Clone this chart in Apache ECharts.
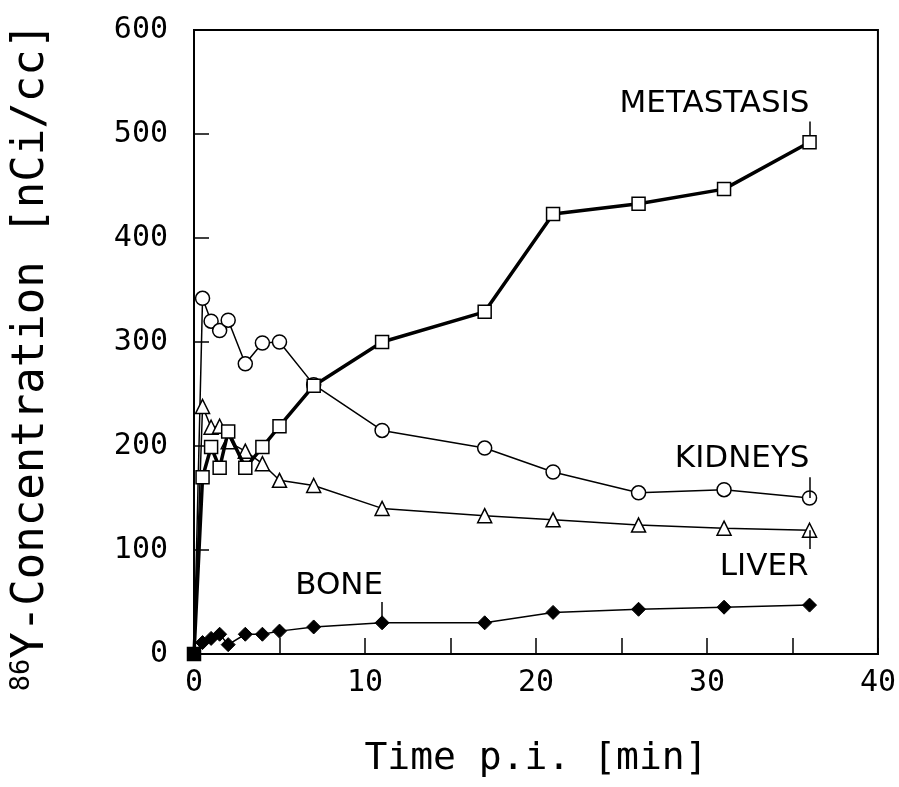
<!DOCTYPE html>
<html><head><meta charset="utf-8">
<style>html,body{margin:0;padding:0;background:#fff}#c{width:899px;height:787px}</style>
<script src="https://cdn.jsdelivr.net/npm/echarts@6/dist/echarts.min.js"></script>
</head><body><div id="c"></div>
<script>
// time points [min p.i.]
const times      = [0, 0.5, 1, 1.5, 2, 3, 4, 5, 7, 11, 17, 21, 26, 31, 36];
// 86Y concentration [nCi/cc]
const metastasis = [0, 170, 199, 179, 214, 179, 199, 219, 258, 300, 329, 423, 433, 447, 492];
const kidneys    = [0, 342, 320, 311, 321, 279, 299, 300, 259, 215, 198, 175, 155, 158, 150];
const liver      = [0, 238, 218, 219, 204, 195, 183, 167, 162, 140, 133, 129, 124, 121, 119];
const bone       = [0, 11, 15, 19, 9, 19, 19, 22, 26, 30, 30, 40, 43, 45, 47];
const xTickLabels = [0, 10, 20, 30, 40];
const yTickLabels = [0, 100, 200, 300, 400, 500, 600];
const seriesNames = ['METASTASIS', 'KIDNEYS', 'LIVER', 'BONE'];

const FONT = 'DejaVu Sans';
const MONO = 'DejaVu Sans Mono';

function pts(vals, originExtra, labelIdx, labelOpt) {
  return times.map((t, i) => {
    const item = { value: [t, vals[i]] };
    if (i === 0 && originExtra) Object.assign(item, originExtra);
    if (i === labelIdx) item.label = labelOpt;
    return item;
  });
}
function lab(text, offset) {
  return { show: true, formatter: text, position: 'inside', align: 'right', verticalAlign: 'middle',
           offset: offset, fontFamily: FONT, fontSize: 31, color: '#000' };
}
function leader(vals, idx, dv) {
  return { symbol: ['none', 'none'], silent: true, animation: false, label: { show: false },
           lineStyle: { color: '#000', width: 1.5, type: 'solid' },
           emphasis: { disabled: true },
           data: [[{ coord: [times[idx], vals[idx]] }, { coord: [times[idx], vals[idx] + dv] }]] };
}
const last = times.length - 1;
const lineBase = { type: 'line', animation: false, silent: true, emphasis: { disabled: true } };

const chart = echarts.init(document.getElementById('c'));
chart.setOption({
  backgroundColor: '#fff',
  grid: { left: 194, right: 12, top: 30, bottom: 133, show: true, borderColor: '#000', borderWidth: 2, containLabel: false },
  xAxis: {
    type: 'value', min: 0, max: 40, interval: 5,
    name: 'Time p.i. [min]', nameLocation: 'middle', nameGap: 86,
    nameTextStyle: { fontFamily: MONO, fontSize: 38, color: '#000' },
    axisLine: { show: true, lineStyle: { color: '#000', width: 2 } },
    axisTick: { show: true, inside: true, length: 16, lineStyle: { color: '#000', width: 1.5 } },
    axisLabel: { fontFamily: MONO, fontSize: 30, color: '#000', margin: 14,
      formatter: v => (xTickLabels.indexOf(v) >= 0 ? String(v) : '') },
    splitLine: { show: false }
  },
  yAxis: {
    type: 'value', min: 0, max: 600, interval: 100,
    name: '{sup|86}{main|Y-Concentration [nCi/cc]}', nameLocation: 'middle', nameGap: 138, nameRotate: 90,
    nameTextStyle: { color: '#000', padding: [0, 30, 0, 0], rich: {
      sup: { fontFamily: MONO, fontSize: 27, color: '#000', verticalAlign: 'top', lineHeight: 48 },
      main: { fontFamily: MONO, fontSize: 44, color: '#000', lineHeight: 48 } } },
    axisLine: { show: true, lineStyle: { color: '#000', width: 2 } },
    axisTick: { show: true, inside: true, length: 15, lineStyle: { color: '#000', width: 1.5 } },
    axisLabel: { fontFamily: MONO, fontSize: 30, color: '#000', margin: 26,
      formatter: v => (yTickLabels.indexOf(v) >= 0 ? String(v) : '') },
    splitLine: { show: false }
  },
  series: [
    Object.assign({}, lineBase, {
      name: seriesNames[1], z: 3,
      data: pts(kidneys, { symbol: 'none' }, last, lab(seriesNames[1], [0, -39])),
      symbol: 'circle', symbolSize: 14,
      itemStyle: { color: '#fff', borderColor: '#000', borderWidth: 1.5 },
      lineStyle: { color: '#000', width: 1.5 },
      markLine: leader(kidneys, last, 20)
    }),
    Object.assign({}, lineBase, {
      name: seriesNames[2], z: 3,
      data: pts(liver, { symbol: 'none' }, last, lab(seriesNames[2], [-1, 37])),
      symbol: 'triangle', symbolSize: 14,
      itemStyle: { color: '#fff', borderColor: '#000', borderWidth: 1.5 },
      lineStyle: { color: '#000', width: 1.5 },
      markLine: leader(liver, last, -18)
    }),
    Object.assign({}, lineBase, {
      name: seriesNames[3], z: 4,
      data: pts(bone, { symbol: 'none' }, 9, lab(seriesNames[3], [1, -37])),
      symbol: 'diamond', symbolSize: 14,
      itemStyle: { color: '#000', borderColor: '#000', borderWidth: 1 },
      lineStyle: { color: '#000', width: 1.5 },
      markLine: leader(bone, 9, 20)
    }),
    Object.assign({}, lineBase, {
      name: seriesNames[0], z: 5,
      data: pts(metastasis, { itemStyle: { color: '#000' } }, last, lab(seriesNames[0], [0, -38])),
      symbol: 'rect', symbolSize: 13,
      itemStyle: { color: '#fff', borderColor: '#000', borderWidth: 1.5 },
      lineStyle: { color: '#000', width: 3.5 },
      markLine: leader(metastasis, last, 20)
    })
  ]
});
</script></body></html>
